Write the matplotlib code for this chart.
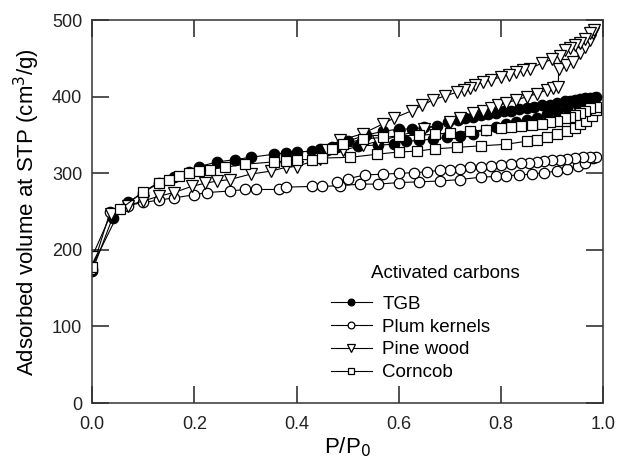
import matplotlib
matplotlib.use("Agg")
import matplotlib.pyplot as plt

plt.rcParams['font.family'] = ['Liberation Sans', 'DejaVu Sans']

# ---------------- data ----------------
tgb_ads_x = [0.0, 0.04, 0.07, 0.10, 0.13, 0.16, 0.19, 0.21, 0.245, 0.28, 0.31, 0.355, 0.38, 0.40, 0.43, 0.446,
             0.48, 0.52, 0.56, 0.59, 0.615, 0.64, 0.667, 0.695, 0.72, 0.745, 0.77, 0.79, 0.81, 0.83, 0.85, 0.87,
             0.89, 0.91, 0.93, 0.95, 0.965, 0.98]
tgb_ads_y = [172, 242, 262, 275, 287, 295, 302, 309, 315, 318, 321, 325, 327, 328, 329, 332,
             334, 336, 337, 338, 342, 343, 345, 347, 349, 352, 357, 361, 364, 367, 370, 373,
             377, 381, 385, 390, 394, 398]
tgb_des_x = [0.985, 0.975, 0.965, 0.955, 0.945, 0.935, 0.925, 0.91, 0.895, 0.88, 0.865, 0.85, 0.835, 0.82,
             0.805, 0.79, 0.775, 0.76, 0.745, 0.73, 0.715, 0.697, 0.675, 0.65, 0.626, 0.60, 0.57, 0.535,
             0.50, 0.47]
tgb_des_y = [400, 399, 398, 397, 396, 395, 394, 392, 390, 389, 387, 385, 384, 382,
             381, 379, 378, 376, 374, 372, 370, 367, 362, 360, 358, 358, 355, 350,
             342, 334]

plum_ads_x = [0.0, 0.035, 0.07, 0.10, 0.13, 0.16, 0.20, 0.225, 0.27, 0.30, 0.32, 0.365, 0.38, 0.43, 0.45,
              0.485, 0.525, 0.56, 0.60, 0.64, 0.68, 0.72, 0.76, 0.79, 0.81, 0.835, 0.86, 0.885, 0.91,
              0.93, 0.95, 0.965, 0.98]
plum_ads_y = [175, 249, 258, 262, 265, 268, 272, 275, 277, 279, 279, 279, 282, 283, 283,
              284, 286, 286, 288, 289, 290, 292, 295, 296, 297, 298, 299, 301, 303,
              306, 310, 314, 320]
plum_des_x = [0.985, 0.975, 0.96, 0.945, 0.93, 0.915, 0.90, 0.885, 0.87, 0.855, 0.84, 0.82, 0.80, 0.78,
              0.76, 0.74, 0.72, 0.70, 0.68, 0.655, 0.63, 0.60, 0.57, 0.534, 0.50, 0.48]
plum_des_y = [322, 322, 321, 320, 319, 318, 317, 316, 315, 314, 313, 312, 311, 310,
              309, 308, 306, 305, 304, 302, 301, 300, 299, 298, 293, 289]

pine_ads_x = [0.0, 0.037, 0.07, 0.10, 0.13, 0.16, 0.195, 0.22, 0.245, 0.27, 0.31, 0.35, 0.38, 0.40,
              0.446, 0.49, 0.53, 0.56, 0.60, 0.65, 0.70, 0.72, 0.746, 0.765, 0.78, 0.795, 0.81, 0.83,
              0.85, 0.87, 0.89, 0.902, 0.912, 0.913, 0.927, 0.94, 0.955, 0.965, 0.975, 0.98]
pine_ads_y = [191, 247, 258, 264, 270, 275, 283, 287, 290, 292, 299, 303, 308, 309,
              319, 330, 337, 342, 349, 358, 367, 372, 379, 382, 385, 389, 392, 396,
              400, 404, 409, 411, 413, 437, 441, 446, 457, 465, 474, 484]
pine_des_x = [0.982, 0.975, 0.965, 0.955, 0.945, 0.935, 0.925, 0.916, 0.90, 0.88, 0.857, 0.843, 0.83,
              0.815, 0.80, 0.78, 0.765, 0.75, 0.74, 0.727, 0.714, 0.69, 0.667, 0.646, 0.626, 0.59,
              0.57, 0.53, 0.485, 0.46]
pine_des_y = [487, 483, 476, 471, 468, 464, 461, 454, 449, 444, 437, 435, 432,
              429, 426, 422, 419, 416, 412, 409, 406, 401, 396, 389, 382, 372,
              365, 352, 343, 330]

corn_ads_x = [0.0, 0.055, 0.10, 0.13, 0.15, 0.17, 0.19, 0.21, 0.23, 0.26, 0.30, 0.355, 0.38, 0.40, 0.43,
              0.45, 0.505, 0.557, 0.60, 0.635, 0.67, 0.714, 0.76, 0.81, 0.85, 0.87, 0.89, 0.91, 0.93,
              0.945, 0.955, 0.967, 0.978, 0.985]
corn_ads_y = [178, 253, 276, 288, 292, 296, 301, 303, 305, 308, 312, 315, 316, 318, 318,
              320, 321, 325, 328, 329, 332, 334, 336, 338, 342, 344, 347, 351, 355,
              359, 364, 369, 375, 383]
corn_des_x = [0.985, 0.975, 0.965, 0.955, 0.945, 0.935, 0.925, 0.91, 0.895, 0.88, 0.86, 0.84, 0.82,
              0.80, 0.77, 0.74, 0.70, 0.67, 0.64, 0.60, 0.57, 0.53, 0.49, 0.47]
corn_des_y = [387, 385, 382, 379, 376, 374, 372, 369, 367, 365, 363, 362, 361,
              359, 357, 355, 353, 351, 350, 349, 347, 345, 338, 332]

labels = ["TGB", "Plum kernels", "Pine wood", "Corncob"]
x_ticks = [0.0, 0.2, 0.4, 0.6, 0.8, 1.0]
y_ticks = [0, 100, 200, 300, 400, 500]

# ---------------- figure ----------------
fig = plt.figure(figsize=(6.18, 4.69), dpi=100)
ax = fig.add_axes([0.149, 0.1407, 0.827, 0.816])

styles = [
    dict(marker='o', mfc='black', mec='black', ms=7.5),
    dict(marker='o', mfc='white', mec='black', ms=7.5),
    dict(marker='v', mfc='white', mec='black', ms=8),
    dict(marker='s', mfc='white', mec='black', ms=7),
]
series = [
    (tgb_ads_x + tgb_des_x, tgb_ads_y + tgb_des_y),
    (plum_ads_x + plum_des_x, plum_ads_y + plum_des_y),
    (pine_ads_x + pine_des_x, pine_ads_y + pine_des_y),
    (corn_ads_x + corn_des_x, corn_ads_y + corn_des_y),
]
for (xs, ys), st, lab in zip(series, styles, labels):
    ax.plot(xs, ys, color='black', lw=0.8, mew=0.9, label=lab, **st)

ax.set_xlim(0, 1)
ax.set_ylim(0, 500)
ax.set_xticks(x_ticks)
ax.set_xticklabels([f"{v:.1f}" for v in x_ticks])
ax.set_yticks(y_ticks)
ax.set_yticklabels([str(v) for v in y_ticks])
ax.tick_params(direction='in', length=12, width=1.1, top=True, right=True,
               labelsize=13, colors='#222222')
ax.tick_params(axis='x', pad=9)
ax.tick_params(axis='y', pad=7)
for s in ax.spines.values():
    s.set_linewidth(1.1)
    s.set_color('#333333')

ax.set_xlabel("P/P$_0$", fontsize=16, labelpad=2)
ax.set_ylabel("Adsorbed volume at STP (cm$^3$/g)", fontsize=16, labelpad=7)

leg = ax.legend(loc='upper left', bbox_to_anchor=(0.434, 0.405), frameon=False,
                title="Activated carbons", title_fontsize=13.5, fontsize=13.5,
                numpoints=1, markerscale=0.65, handlelength=2.2, handletextpad=0.55,
                labelspacing=0.3)
leg._legend_box.align = "left"
leg._legend_box.sep = 10
leg.get_title().set_position((40, 0))

fig.savefig("out.png", dpi=100)
